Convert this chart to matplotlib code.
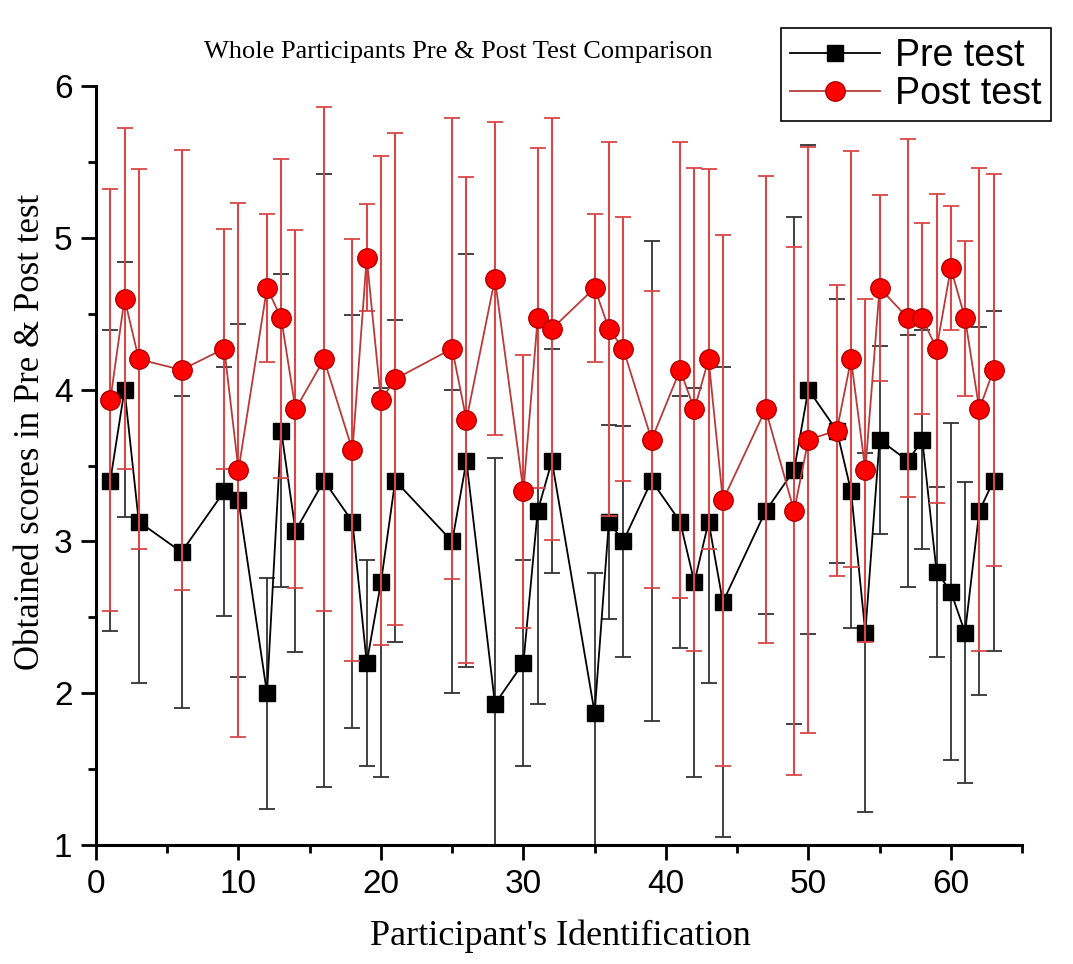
import matplotlib
matplotlib.use("Agg")
import matplotlib.pyplot as plt
from matplotlib.lines import Line2D
from matplotlib.ticker import MultipleLocator

# participant ids that have scores
ids = [1, 2, 3, 6, 9, 10, 12, 13, 14, 16, 18, 19, 20, 21, 25, 26, 28, 30, 31, 32, 35,
       36, 37, 39, 41, 42, 43, 44, 47, 49, 50, 52, 53, 54, 55, 57, 58, 59, 60, 61, 62, 63]

pre = [3.4, 4.0, 3.13, 2.93, 3.33, 3.27, 2.0, 3.73, 3.07, 3.4, 3.13, 2.2, 2.73, 3.4, 3.0,
       3.53, 1.93, 2.2, 3.2, 3.53, 1.87, 3.13, 3.0, 3.4, 3.13, 2.73, 3.13, 2.6, 3.2, 3.47,
       4.0, 3.73, 3.33, 2.4, 3.67, 3.53, 3.67, 2.8, 2.67, 2.4, 3.2, 3.4]
pre_sd = [0.99, 0.84, 1.06, 1.03, 0.82, 1.16, 0.76, 1.03, 0.8, 2.02, 1.36, 0.68, 1.28, 1.06,
          1.0, 1.36, 1.62, 0.68, 1.27, 0.74, 0.92, 0.64, 0.76, 1.58, 0.83, 1.28, 1.06, 1.55,
          0.68, 1.67, 1.61, 0.87, 0.9, 1.18, 0.62, 0.83, 0.72, 0.56, 1.11, 0.99, 1.21, 1.12]

post = [3.93, 4.6, 4.2, 4.13, 4.27, 3.47, 4.67, 4.47, 3.87, 4.2, 3.6, 4.87, 3.93, 4.07, 4.27,
        3.8, 4.73, 3.33, 4.47, 4.4, 4.67, 4.4, 4.27, 3.67, 4.13, 3.87, 4.2, 3.27, 3.87, 3.2,
        3.67, 3.73, 4.2, 3.47, 4.67, 4.47, 4.47, 4.27, 4.8, 4.47, 3.87, 4.13]
post_sd = [1.39, 1.12, 1.25, 1.45, 0.79, 1.76, 0.49, 1.05, 1.18, 1.66, 1.39, 0.35, 1.61, 1.62,
           1.52, 1.6, 1.03, 0.9, 1.12, 1.39, 0.49, 1.23, 0.87, 0.98, 1.5, 1.59, 1.25, 1.75,
           1.54, 1.74, 1.93, 0.96, 1.37, 1.13, 0.61, 1.18, 0.63, 1.02, 0.41, 0.51, 1.59, 1.29]

fig = plt.figure(figsize=(10.73, 9.64), dpi=100)
ax = fig.add_axes([0.0895, 0.1234, 0.863, 0.7874])

ax.errorbar(ids, pre, yerr=pre_sd, color='black', lw=1.3, marker='s', ms=12,
            mfc='black', mec='black', ecolor='#333333', elinewidth=1.3,
            capsize=6, capthick=1.3, zorder=2)
ax.errorbar(ids, post, yerr=post_sd, color='#b83a3a', lw=1.3, marker='o', ms=14,
            mfc='#ff0000', mec='#b00000', ecolor='#d94848', elinewidth=1.5,
            capsize=6, capthick=1.3, zorder=3)

ax.set_xlim(0, 65)
ax.set_ylim(1, 6)
ax.xaxis.set_major_locator(MultipleLocator(10))
ax.xaxis.set_minor_locator(MultipleLocator(5))
ax.yaxis.set_major_locator(MultipleLocator(1))
ax.yaxis.set_minor_locator(MultipleLocator(0.5))

for s in ['top', 'right']:
    ax.spines[s].set_visible(False)
for s in ['left', 'bottom']:
    ax.spines[s].set_linewidth(2.2)
ax.tick_params(which='major', direction='out', length=11, width=2, labelsize=24, pad=6)
ax.tick_params(which='minor', direction='out', length=6, width=2)
for lab in ax.get_xticklabels() + ax.get_yticklabels():
    lab.set_family('Liberation Sans')

ax.set_xlabel("Participant's Identification", family='Liberation Serif', fontsize=26)
ax.xaxis.set_label_coords(0.501, -0.098)
ax.set_ylabel("Obtained scores in Pre & Post test", family='Liberation Serif', fontsize=25)
ax.yaxis.set_label_coords(-0.053, 0.544)
fig.text(0.427, 0.946, "Whole Participants Pre & Post Test Comparison",
         family='Liberation Serif', fontsize=19, ha='center', va='center')

handles = [Line2D([], [], color='black', lw=1.3, marker='s', ms=12, mfc='black', mec='black'),
           Line2D([], [], color='#b83a3a', lw=1.3, marker='o', ms=14, mfc='#ff0000', mec='#b00000')]
leg = fig.legend(handles, ['Pre test', 'Post test'], loc='upper right',
                 bbox_to_anchor=(0.997, 0.99),
                 prop={'family': 'Liberation Sans', 'size': 27}, fancybox=False,
                 edgecolor='black', framealpha=1, handlelength=2.4, borderpad=0.25,
                 labelspacing=0.05, handletextpad=0.4)
leg.get_frame().set_linewidth(1.2)

fig.savefig('out.png', dpi=100)
